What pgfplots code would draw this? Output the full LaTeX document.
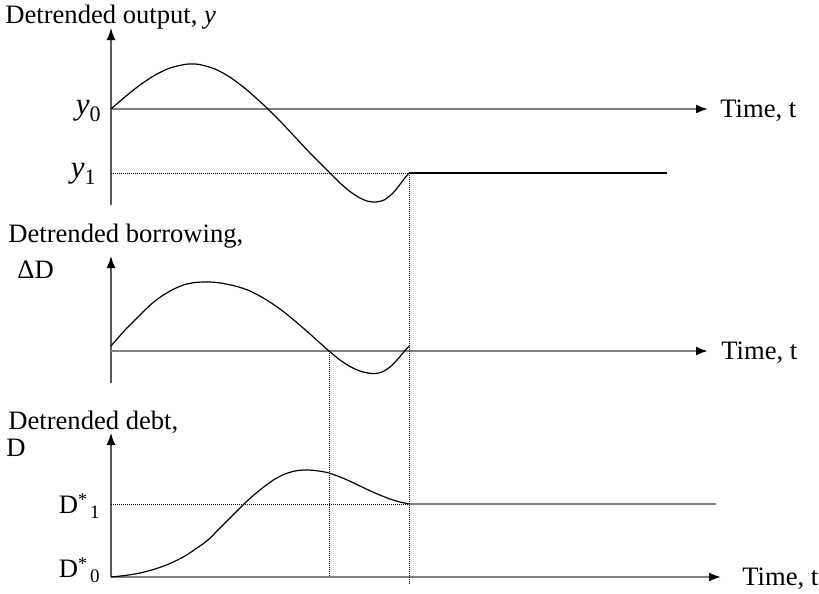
\documentclass[border=0pt]{standalone}
\usepackage{fontspec}
\setmainfont{Liberation Serif}
\usepackage{pgfplots}
\pgfplotsset{compat=1.18}
\usetikzlibrary{arrows.meta}

\definecolor{hgray}{HTML}{808080}
\definecolor{vgray}{HTML}{5A5A5A}

\newcommand{\sub}[1]{\raisebox{-3.5pt}{\fontsize{11}{13}\selectfont #1}}
\newcommand{\dstar}[1]{D\raisebox{4pt}{\fontsize{9}{11}\selectfont *}\hspace{1.5pt}\raisebox{-2.5pt}{\fontsize{9.5}{11}\selectfont #1}}

\begin{document}
\begin{tikzpicture}[lbl/.style={inner sep=0pt, font=\fontsize{13.3}{15}\selectfont}]
\begin{axis}[
  at={(0,0)}, anchor=south west,
  scale only axis, width=409.5pt, height=297pt,
  xmin=0, xmax=819, ymin=0, ymax=594, y dir=reverse,
  axis lines=none, clip=false,
  haxis/.style={hgray, line width=1pt, -{Latex[length=6pt,width=4.5pt,color=black]}},
  vaxis/.style={vgray, line width=0.75pt, -{Latex[length=6pt,width=4.5pt,color=black]}},
  dots/.style={black, line width=0.5pt, dash pattern=on 0.5pt off 0.5pt},
  curve/.style={black, line width=0.6pt, smooth},
]
% ---- top panel: detrended output
\addplot[vaxis] coordinates {(111,205) (111,28)};
\addplot[haxis] coordinates {(111,109) (708,109)};
\addplot[dots] coordinates {(111,173) (409,173)};
\addplot[black, line width=0.7pt] coordinates {(409,173) (667,173)};
\addplot[curve] coordinates {
  (111,109) (125,96.9) (140,85) (155,75.1) (170,68) (185,64.4) (192,64)
  (200,64.6) (215,69) (230,77.2) (245,88.4) (260,101.6) (268,109)
  (280,121) (295,137) (310,153) (320,163) (330,173) (340,183) (350,191.5)
  (360,198) (368,201.3) (376,202) (384,200) (392,194) (398,187) (404,179) (409,173)
};

% ---- middle panel: detrended borrowing
\addplot[vaxis] coordinates {(111,383) (111,256)};
\addplot[haxis] coordinates {(111,351) (708,351)};
\addplot[curve] coordinates {
  (111,346) (118,338) (126,329) (135,320) (145,310) (155,301) (165,294)
  (175,288.5) (185,284.5) (195,282.5) (205,282) (215,282.3) (225,283.8)
  (237,286.5) (250,291) (265,299) (280,309) (295,321) (310,334) (320,343)
  (329,351) (340,360) (350,366.5) (360,371) (368,373) (375,373.5) (382,372)
  (390,367) (397,360) (403,353) (409,346)
};

% ---- bottom panel: detrended debt
\addplot[vaxis] coordinates {(111,577) (111,433)};
\addplot[haxis] coordinates {(111,577) (721,577)};
\addplot[dots] coordinates {(111,504) (409,504)};
\addplot[hgray, line width=1pt] coordinates {(409,504) (716,504)};
\addplot[curve] coordinates {
  (111,577) (125,575.5) (140,573) (155,569) (170,563.5) (185,556) (197,548)
  (208,540) (218,530) (228,520) (238,510) (245,503) (255,494) (265,486)
  (275,479) (285,474) (295,471) (305,470) (315,470.5) (329,473) (345,479)
  (360,486) (375,493) (390,499) (400,502) (409,504)
};

% ---- dotted guides between panels
\addplot[dots] coordinates {(409,173) (409,584)};
\addplot[dots] coordinates {(329,351) (329,577)};

% ---- labels
\node[lbl, anchor=base west] at (5,24) {Detrended output, \textit{y}};
\node[lbl, anchor=base west] at (720,117) {Time, t};
\node[lbl, anchor=base east] at (101,114) {{\fontsize{15.5}{17}\selectfont\textit{y}}\sub{0}};
\node[lbl, anchor=base east] at (96,177) {{\fontsize{15.5}{17}\selectfont\textit{y}}\sub{1}};

\node[lbl, anchor=base west] at (8,242) {Detrended borrowing,};
\node[lbl, anchor=base west] at (17,278) {ΔD};
\node[lbl, anchor=base west] at (721,359) {Time, t};

\node[lbl, anchor=base west] at (8,429) {Detrended debt,};
\node[lbl, anchor=base west] at (6,456) {D};
\node[lbl, anchor=base east] at (100,513) {\dstar{1}};
\node[lbl, anchor=base east] at (100,577) {\dstar{0}};
\node[lbl, anchor=base west] at (742,585) {Time, t};
\end{axis}
\pgfresetboundingbox
\path (0,0) rectangle (409.5pt,297pt);
\end{tikzpicture}
\end{document}
